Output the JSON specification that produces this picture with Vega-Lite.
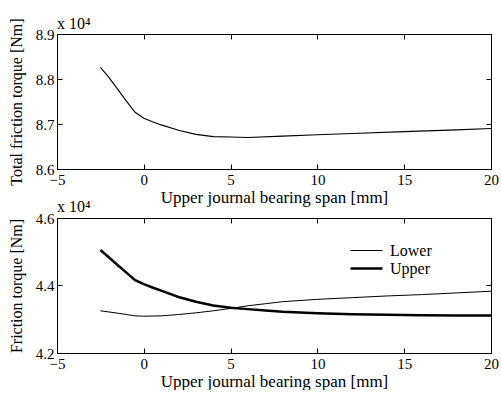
{
  "$schema": "https://vega.github.io/schema/vega-lite/v6.json",
  "background": "white",
  "padding": {"left": 7, "top": 15, "right": 5, "bottom": 0},
  "spacing": -8,
  "datasets": {
    "total": [
      {"span": -2.5, "torque": 8.826},
      {"span": -2, "torque": 8.803},
      {"span": -1.5, "torque": 8.777},
      {"span": -1, "torque": 8.751},
      {"span": -0.5, "torque": 8.726},
      {"span": 0, "torque": 8.713},
      {"span": 0.5, "torque": 8.705},
      {"span": 1, "torque": 8.698},
      {"span": 2, "torque": 8.686},
      {"span": 3, "torque": 8.677},
      {"span": 4, "torque": 8.672},
      {"span": 5, "torque": 8.671},
      {"span": 6, "torque": 8.670},
      {"span": 8, "torque": 8.673},
      {"span": 10, "torque": 8.676},
      {"span": 12, "torque": 8.679},
      {"span": 15, "torque": 8.683},
      {"span": 18, "torque": 8.687},
      {"span": 20, "torque": 8.690}
    ],
    "parts": [
      {"series": "Lower", "span": -2.5, "torque": 4.325},
      {"series": "Lower", "span": -1.5, "torque": 4.318},
      {"series": "Lower", "span": -0.5, "torque": 4.310},
      {"series": "Lower", "span": 0, "torque": 4.309},
      {"series": "Lower", "span": 1, "torque": 4.310},
      {"series": "Lower", "span": 2, "torque": 4.314},
      {"series": "Lower", "span": 3, "torque": 4.319},
      {"series": "Lower", "span": 4, "torque": 4.325},
      {"series": "Lower", "span": 5, "torque": 4.332},
      {"series": "Lower", "span": 6, "torque": 4.340},
      {"series": "Lower", "span": 7, "torque": 4.346},
      {"series": "Lower", "span": 8, "torque": 4.352},
      {"series": "Lower", "span": 10, "torque": 4.359},
      {"series": "Lower", "span": 12, "torque": 4.364},
      {"series": "Lower", "span": 14, "torque": 4.369},
      {"series": "Lower", "span": 16, "torque": 4.373},
      {"series": "Lower", "span": 18, "torque": 4.378},
      {"series": "Lower", "span": 20, "torque": 4.383},
      {"series": "Upper", "span": -2.5, "torque": 4.505},
      {"series": "Upper", "span": -2, "torque": 4.483},
      {"series": "Upper", "span": -1.5, "torque": 4.460},
      {"series": "Upper", "span": -1, "torque": 4.438},
      {"series": "Upper", "span": -0.5, "torque": 4.416},
      {"series": "Upper", "span": 0, "torque": 4.404},
      {"series": "Upper", "span": 0.5, "torque": 4.394},
      {"series": "Upper", "span": 1, "torque": 4.385},
      {"series": "Upper", "span": 2, "torque": 4.366},
      {"series": "Upper", "span": 3, "torque": 4.352},
      {"series": "Upper", "span": 4, "torque": 4.341},
      {"series": "Upper", "span": 5, "torque": 4.334},
      {"series": "Upper", "span": 6, "torque": 4.330},
      {"series": "Upper", "span": 7, "torque": 4.326},
      {"series": "Upper", "span": 8, "torque": 4.322},
      {"series": "Upper", "span": 10, "torque": 4.318},
      {"series": "Upper", "span": 12, "torque": 4.315},
      {"series": "Upper", "span": 14, "torque": 4.313},
      {"series": "Upper", "span": 16, "torque": 4.312},
      {"series": "Upper", "span": 18, "torque": 4.311},
      {"series": "Upper", "span": 20, "torque": 4.311}
    ]
  },
  "vconcat": [
    {
      "width": 434,
      "height": 135,
      "title": {"text": "x 10⁴", "anchor": "start", "frame": "group", "offset": -14},
      "data": {"name": "total"},
      "layer": [
        {
          "mark": {"type": "line", "color": "black", "strokeWidth": 1.1},
          "encoding": {
            "x": {"field": "span", "type": "quantitative", "scale": {"domain": [-5, 20], "nice": false},
                  "axis": {"values": [-5, 0, 5, 10, 15, 20], "title": "Upper journal bearing span [mm]"}},
            "y": {"field": "torque", "type": "quantitative", "scale": {"domain": [8.6, 8.9], "nice": false, "zero": false},
                  "axis": {"values": [8.6, 8.7, 8.8, 8.9], "format": ".1f", "title": "Total friction torque [Nm]"}}
          }
        },
        {
          "mark": {"type": "line", "strokeOpacity": 0},
          "encoding": {
            "x": {"field": "span", "type": "quantitative",
                  "axis": {"orient": "top", "values": [-5, 0, 5, 10, 15, 20], "labels": false, "title": null, "domain": false}},
            "y": {"field": "torque", "type": "quantitative",
                  "axis": {"orient": "right", "values": [8.6, 8.7, 8.8, 8.9], "labels": false, "title": null, "domain": false}}
          }
        }
      ],
      "resolve": {"axis": {"x": "independent", "y": "independent"}}
    },
    {
      "width": 434,
      "height": 135,
      "title": {"text": "x 10⁴", "anchor": "start", "frame": "group", "offset": -4},
      "data": {"name": "parts"},
      "layer": [
        {
          "mark": {"type": "line", "color": "black"},
          "encoding": {
            "x": {"field": "span", "type": "quantitative", "scale": {"domain": [-5, 20], "nice": false},
                  "axis": {"values": [-5, 0, 5, 10, 15, 20], "title": "Upper journal bearing span [mm]"}},
            "y": {"field": "torque", "type": "quantitative", "scale": {"domain": [4.2, 4.6], "nice": false, "zero": false},
                  "axis": {"values": [4.2, 4.4, 4.6], "format": ".1f", "title": "Friction torque [Nm]"}},
            "color": {"field": "series", "type": "nominal", "scale": {"domain": ["Lower", "Upper"], "range": ["black", "black"]},
                      "legend": {"title": null, "orient": "none", "legendX": 300, "legendY": 208, "symbolType": "M-2,0H2", "symbolSize": 256,
                                 "labelFontSize": 16, "labelFont": "Liberation Serif", "labelColor": "black", "rowPadding": -6, "labelOffset": 14}},
            "strokeWidth": {"field": "series", "type": "nominal", "scale": {"domain": ["Lower", "Upper"], "range": [1, 2.5]},
                            "legend": {"title": null, "orient": "none", "legendX": 300, "legendY": 208, "symbolType": "M-2,0H2", "symbolSize": 256,
                                 "labelFontSize": 16, "labelFont": "Liberation Serif", "labelColor": "black", "rowPadding": -6, "labelOffset": 14}}
          }
        },
        {
          "mark": {"type": "line", "strokeOpacity": 0},
          "encoding": {
            "x": {"field": "span", "type": "quantitative",
                  "axis": {"orient": "top", "values": [-5, 0, 5, 10, 15, 20], "labels": false, "title": null, "domain": false}},
            "y": {"field": "torque", "type": "quantitative",
                  "axis": {"orient": "right", "values": [4.2, 4.4, 4.6], "labels": false, "title": null, "domain": false}}
          }
        }
      ],
      "resolve": {"axis": {"x": "independent", "y": "independent"}}
    }
  ],
  "config": {
    "font": "Liberation Serif",
    "view": {"stroke": "black", "strokeWidth": 1},
    "title": {"font": "Liberation Serif", "fontSize": 16, "fontWeight": "normal", "color": "black"},
    "axis": {
      "grid": false,
      "domainColor": "black",
      "tickColor": "black",
      "tickSize": -5,
      "labelFont": "Liberation Serif",
      "labelFontSize": 15,
      "labelColor": "black",
      "labelPadding": 8,
      "titleFont": "Liberation Serif",
      "titleFontSize": 16,
      "titleFontWeight": "normal",
      "titleColor": "black",
      "labelFlush": false,
      "labelOverlap": false
    },
    "axisX": {"titlePadding": 2, "titleFontSize": 17},
    "axisY": {"titlePadding": 11}
  }
}
